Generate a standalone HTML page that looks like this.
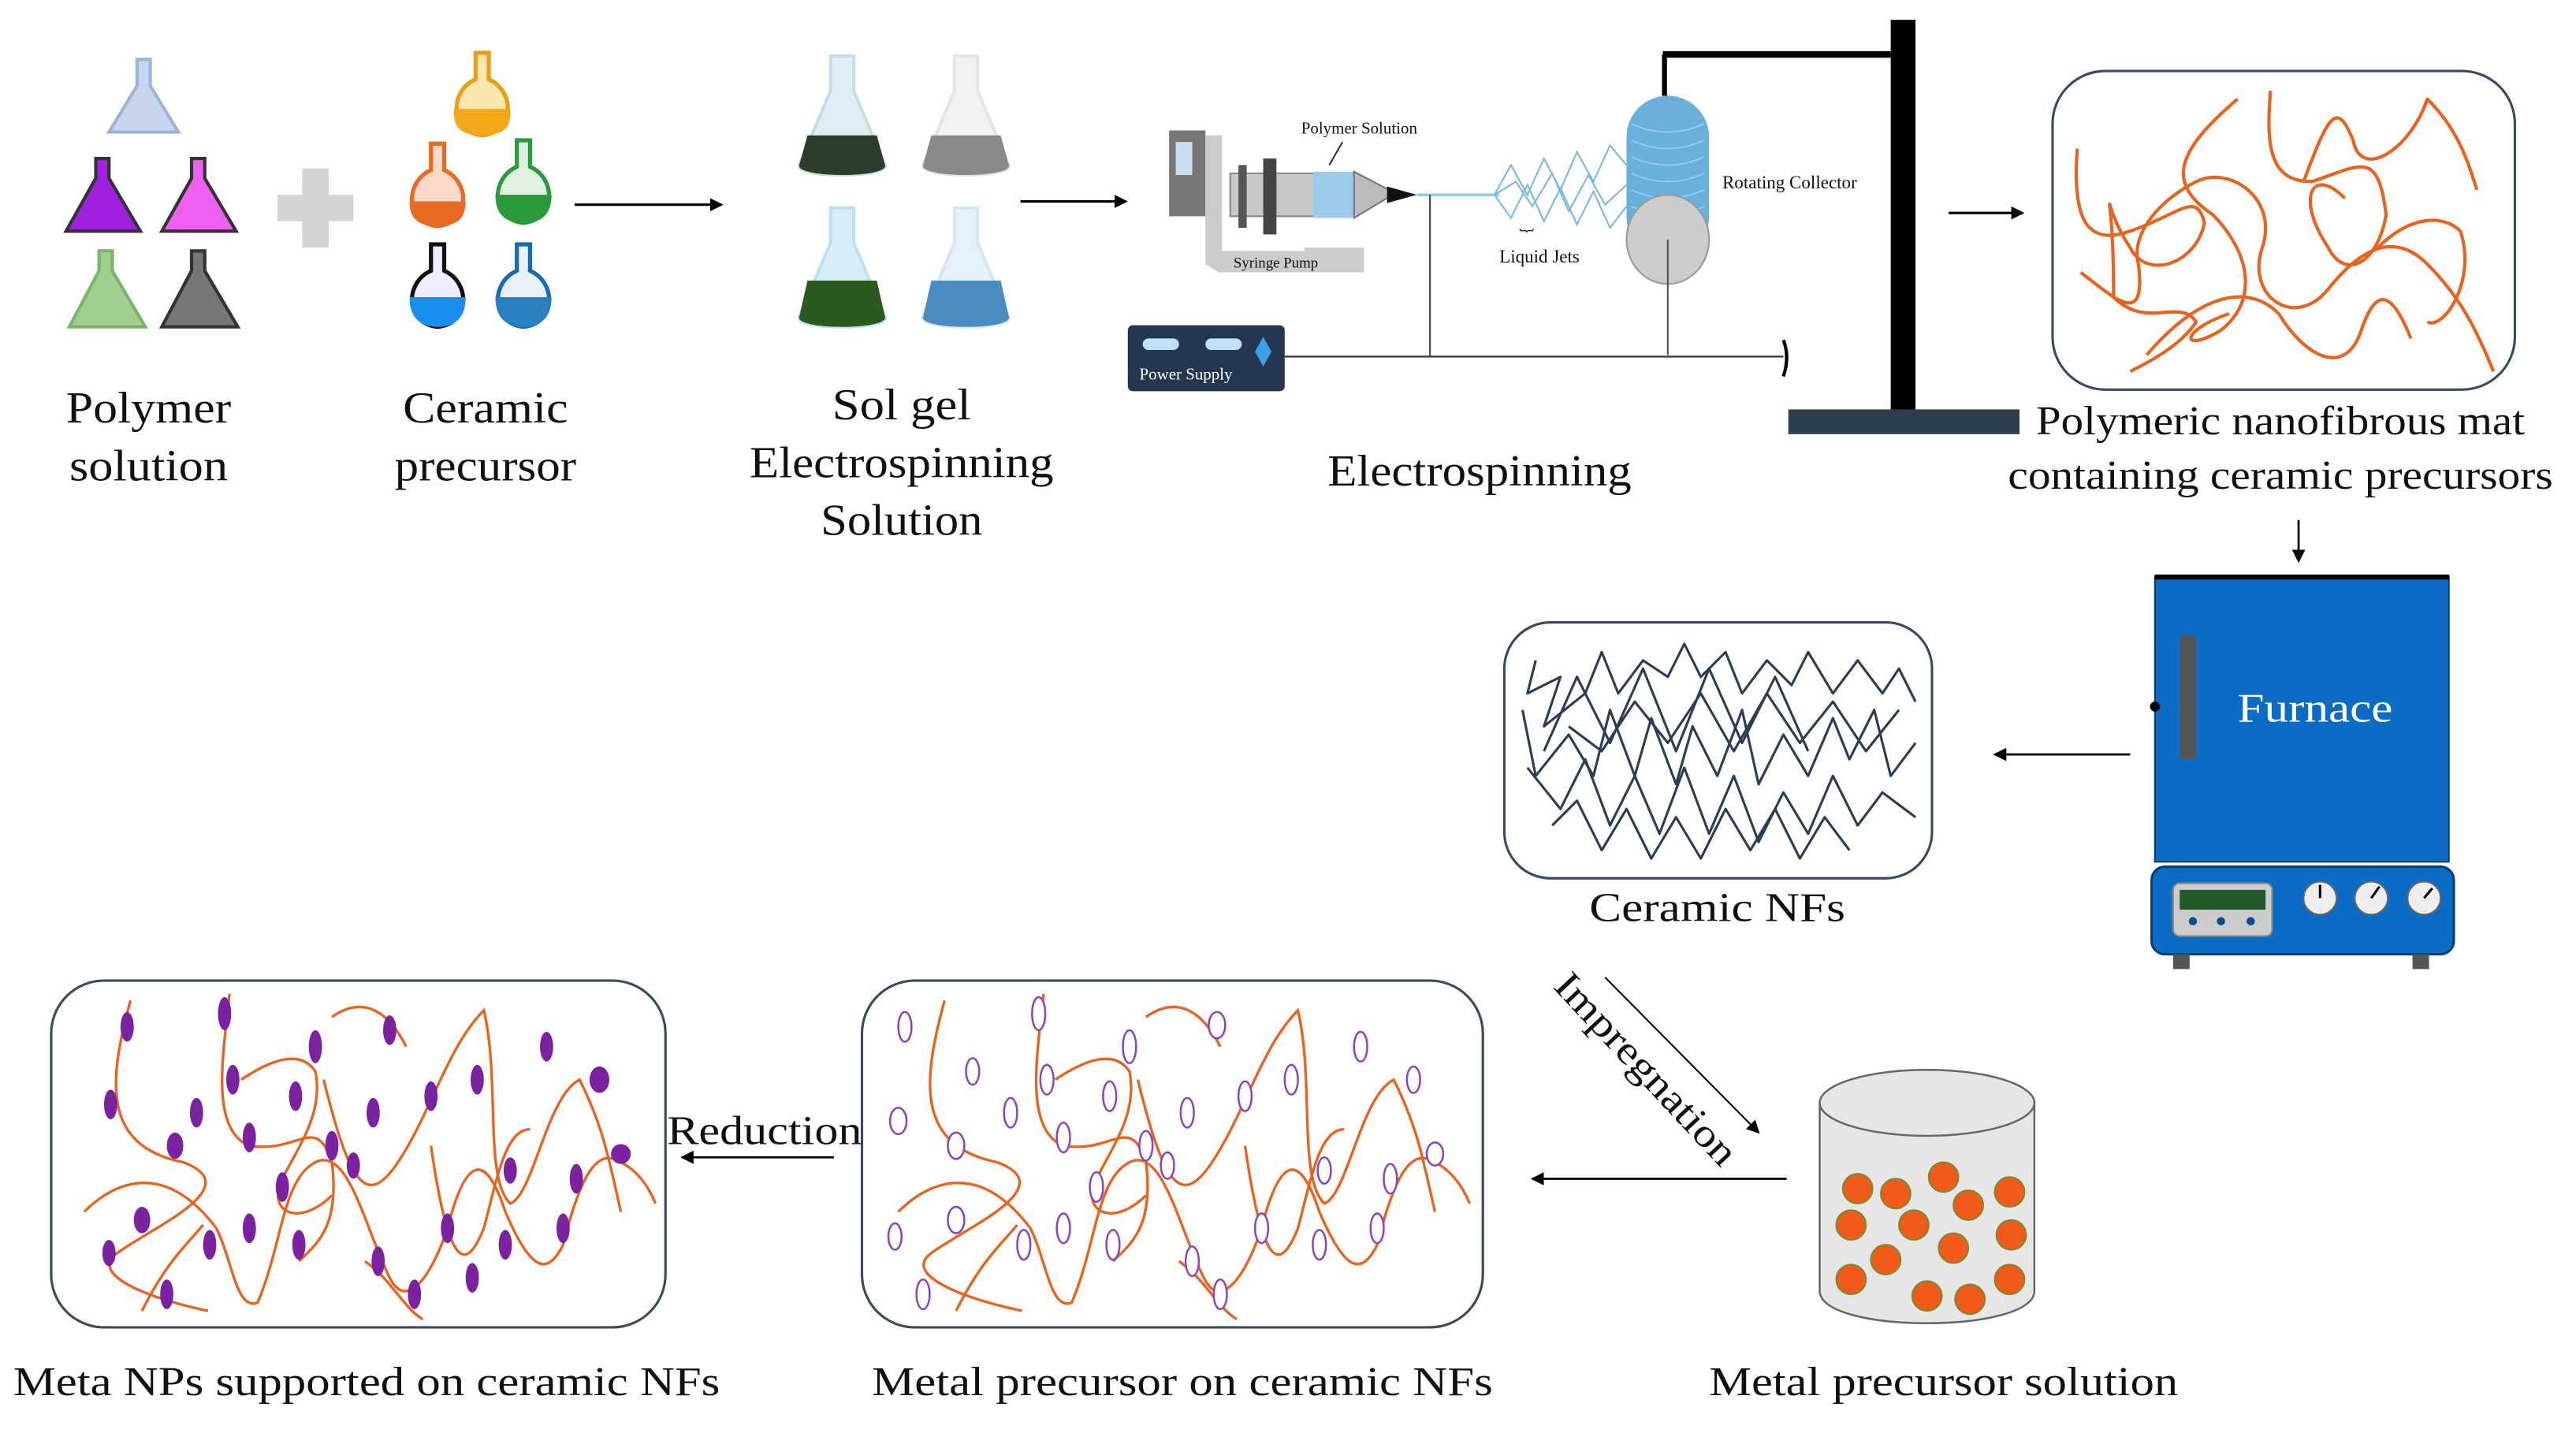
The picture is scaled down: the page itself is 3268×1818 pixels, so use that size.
<!DOCTYPE html>
<html><head><meta charset="utf-8"><style>
html,body{margin:0;padding:0;background:#fff;}
svg{display:block;}
text{font-family:"Liberation Serif",serif;fill:#111;}
</style></head><body>
<svg width="3268" height="1818" viewBox="0 0 1560 868" preserveAspectRatio="none" xmlns="http://www.w3.org/2000/svg">
<defs>
<marker id="ah" markerWidth="8" markerHeight="8" refX="7" refY="4" orient="auto" markerUnits="userSpaceOnUse"><path d="M0,0 L8,4 L0,8 Z" fill="#000"/></marker>
<g id="cflask"><path d="M-5,-30 L5,-30 L5,-12 C22,-5 22,22 0,25 C-22,22 -22,-5 -5,-12 Z" fill="#fff" stroke="currentColor" stroke-width="2.5"/></g>
<g id="fib">
<path d="M48,12 C35,60 30,100 80,110 C120,125 60,150 40,165 C20,180 70,195 95,200"/>
<path d="M108,8 C105,40 95,90 120,100 C150,105 160,80 170,110 C175,150 160,160 150,170"/>
<path d="M170,22 C190,8 205,20 215,40"/>
<path d="M165,60 C180,120 190,140 210,110 C230,80 240,40 262,18 C272,60 262,120 278,135 C292,130 300,70 320,60 C335,90 338,110 345,140"/>
<path d="M20,140 C40,120 70,110 100,150 C110,170 112,200 125,195 C140,160 140,120 160,110 C180,100 190,150 205,180 C215,200 230,180 240,150 C250,110 262,100 275,140 C290,175 300,180 310,160 C320,120 330,100 345,110 C355,115 362,125 366,135"/>
<path d="M55,200 C70,170 82,160 92,148"/>
<path d="M115,60 C130,50 150,40 160,55 C165,80 150,100 140,120 C130,140 150,150 170,130"/>
<path d="M230,100 C240,170 250,180 262,150 C270,120 275,90 290,90"/>
<path d="M190,170 C205,180 215,200 225,205"/>
</g>
</defs>

<!-- Polymer flasks -->
<g stroke-width="2">
<path d="M83,36 L91,36 L91,52 L108,80 L66,80 L83,52 Z" fill="#c7d6ee" stroke="#9fb5d8"/>
<path d="M58,96 L66,96 L66,108 L85,140 L40,140 L58,108 Z" fill="#a020e0" stroke="#333"/>
<path d="M116,96 L124,96 L124,108 L143,140 L98,140 L116,108 Z" fill="#f060f0" stroke="#333"/>
<path d="M60,152 L68,152 L68,164 L88,198 L42,198 L60,164 Z" fill="#9fd090" stroke="#7ab56a"/>
<path d="M116,152 L124,152 L124,164 L144,198 L98,198 L116,164 Z" fill="#777" stroke="#333"/>
</g>
<g fill="#d4d4d4"><rect x="168" y="118" width="46" height="16"/><rect x="183" y="102" width="16" height="48"/></g>
<!-- Ceramic flasks -->
<g>
<path d="M288,32 L296,32 L296,48 C312,55 312,80 292,82 C272,80 272,55 288,48 Z" fill="#fbe5b0" stroke="#e8a010" stroke-width="2.5"/>
<path d="M275,66 L309,66 C310,78 304,82 292,82 C280,82 274,78 275,66Z" fill="#f0a818"/>
<path d="M261,87 L269,87 L269,103 C285,110 285,135 265,137 C245,135 245,110 261,103 Z" fill="#fbd8c8" stroke="#e86a20" stroke-width="2.5"/>
<path d="M248,122 L282,122 C282,133 276,137 265,137 C254,137 248,133 248,122Z" fill="#e86a20"/>
<path d="M313,85 L321,85 L321,101 C337,108 337,133 317,135 C297,133 297,108 313,101 Z" fill="#e0f0e0" stroke="#2a9a3a" stroke-width="2.5"/>
<path d="M300,118 L334,118 C334,130 328,135 317,135 C306,135 300,130 300,118Z" fill="#2a9a3a"/>
<path d="M261,148 L269,148 L269,164 C285,171 285,196 265,198 C245,196 245,171 261,164 Z" fill="#eef" stroke="#111" stroke-width="2.5"/>
<path d="M248,180 L282,180 C282,192 276,198 265,198 C254,198 248,192 248,180Z" fill="#1a8ef0"/>
<path d="M313,148 L321,148 L321,164 C337,171 337,196 317,198 C297,196 297,171 313,164 Z" fill="#e8f0f8" stroke="#1a6ab0" stroke-width="2.5"/>
<path d="M300,180 L334,180 C334,192 328,198 317,198 C306,198 300,192 300,180Z" fill="#2a80c0"/>
</g>
<line x1="348" y1="124" x2="437" y2="124" stroke="#000" stroke-width="1.5" marker-end="url(#ah)"/>
<!-- Sol gel flasks -->
<g>
<path d="M503,34 L517,34 L517,55 L536,100 C538,108 482,108 484,100 L503,55 Z" fill="#dfeef4" stroke="#c7dde6" stroke-width="2"/>
<path d="M489,82 L531,82 L536,100 C538,108 482,108 484,100Z" fill="#2b3d2b"/>
<path d="M578,34 L592,34 L592,55 L611,100 C613,108 557,108 559,100 L578,55 Z" fill="#f2f2f2" stroke="#e5e5e5" stroke-width="2"/>
<path d="M564,82 L606,82 L611,100 C613,108 557,108 559,100Z" fill="#8a8a8a"/>
<path d="M503,126 L517,126 L517,147 L536,192 C538,200 482,200 484,192 L503,147 Z" fill="#d6eef8" stroke="#bfe0f0" stroke-width="2"/>
<path d="M489,170 L531,170 L536,192 C538,200 482,200 484,192Z" fill="#2a5a1e"/>
<path d="M578,126 L592,126 L592,147 L611,192 C613,200 557,200 559,192 L578,147 Z" fill="#e6f2fa" stroke="#d2e8f4" stroke-width="2"/>
<path d="M564,170 L606,170 L611,192 C613,200 557,200 559,192Z" fill="#4a8cc0"/>
</g>
<line x1="618" y1="122" x2="682" y2="122" stroke="#000" stroke-width="1.5" marker-end="url(#ah)"/>
<!-- Electrospinning setup -->
<rect x="708" y="79" width="22" height="52" fill="#777"/>
<rect x="712" y="86" width="10" height="20" fill="#cde"/>
<path d="M730,82 L740,82 L740,152 L790,152 L790,150 L826,150 L826,165 L738,165 L730,160 Z" fill="#ccc"/>
<text x="747" y="162" font-size="9">Syringe  Pump</text>
<rect x="745" y="105" width="70" height="26" fill="#c8c8c8" stroke="#888"/>
<rect x="765" y="96" width="8" height="46" fill="#444"/>
<rect x="750" y="100" width="5" height="38" fill="#555"/>
<rect x="795" y="104" width="25" height="28" fill="#9ccbec"/>
<path d="M820,104 L845,117 L820,132 Z" fill="#bbb" stroke="#777"/>
<path d="M840,113 L858,118 L840,123Z" fill="#111"/>
<line x1="858" y1="118" x2="908" y2="118" stroke="#8cc4e8" stroke-width="1.5"/>
<text x="788" y="81" font-size="10">Polymer Solution</text>
<line x1="813" y1="86" x2="805" y2="100" stroke="#333" stroke-width="1"/>
<g fill="none" stroke="#7ab8e0" stroke-width="1">
<polyline points="905,118 915,100 925,118 935,96 945,115 955,92 965,110 975,88 985,100"/>
<polyline points="905,118 915,132 925,112 935,134 945,114 955,136 965,116 975,138 985,125"/>
<polyline points="905,118 918,110 928,125 940,105 950,128 962,106 972,124 985,112"/>
</g>
<text x="908" y="159" font-size="11">Liquid Jets</text>
<text x="920" y="146" font-size="9">︸</text>
<line x1="1008" y1="58" x2="1008" y2="33" stroke="#000" stroke-width="3"/>
<line x1="1007" y1="33" x2="1145" y2="33" stroke="#000" stroke-width="4"/>
<rect x="985" y="58" width="50" height="98" rx="25" fill="#6ab0dc"/>
<g fill="none" stroke="#a8d4ee" stroke-width="0.8" opacity="0.8">
<path d="M988,75 Q1010,85 1032,75"/><path d="M988,85 Q1010,95 1032,85"/><path d="M988,95 Q1010,105 1032,95"/><path d="M988,105 Q1010,115 1032,105"/><path d="M988,115 Q1010,125 1032,115"/><path d="M988,125 Q1010,135 1032,125"/>
</g>
<ellipse cx="1010" cy="145" rx="25" ry="27" fill="#ccc" stroke="#999"/>
<line x1="1010" y1="145" x2="1010" y2="215" stroke="#555" stroke-width="1"/>
<text x="1043" y="114" font-size="11">Rotating Collector</text>
<rect x="1145" y="12" width="15" height="237" fill="#000"/>
<rect x="1083" y="248" width="140" height="15" fill="#2c3e50"/>
<rect x="683" y="197" width="95" height="40" rx="3" fill="#253750"/>
<rect x="692" y="205" width="22" height="7" rx="3.5" fill="#bfe0f5"/>
<rect x="730" y="205" width="22" height="7" rx="3.5" fill="#bfe0f5"/>
<path d="M765,204 L770,213 L765,222 L760,213Z" fill="#3aa0e8"/>
<text x="690" y="230" font-size="10" fill="#fff" style="fill:#fff">Power Supply</text>
<line x1="778" y1="216" x2="1080" y2="216" stroke="#444" stroke-width="1.2"/>
<line x1="866" y1="118" x2="866" y2="216" stroke="#444" stroke-width="1"/>
<path d="M1080,206 Q1084,216 1080,228" stroke="#000" stroke-width="2" fill="none"/>
<text x="896" y="294" font-size="27" text-anchor="middle" textLength="184" lengthAdjust="spacingAndGlyphs">Electrospinning</text>
<!-- Labels top -->
<text x="90" y="256" font-size="27" text-anchor="middle" textLength="100" lengthAdjust="spacingAndGlyphs">Polymer</text>
<text x="90" y="291" font-size="27" text-anchor="middle" textLength="96" lengthAdjust="spacingAndGlyphs">solution</text>
<text x="294" y="256" font-size="27" text-anchor="middle" textLength="100" lengthAdjust="spacingAndGlyphs">Ceramic</text>
<text x="294" y="291" font-size="27" text-anchor="middle" textLength="110" lengthAdjust="spacingAndGlyphs">precursor</text>
<text x="546" y="254" font-size="27" text-anchor="middle" textLength="84" lengthAdjust="spacingAndGlyphs">Sol gel</text>
<text x="546" y="289" font-size="27" text-anchor="middle" textLength="184" lengthAdjust="spacingAndGlyphs">Electrospinning</text>
<text x="546" y="324" font-size="27" text-anchor="middle" textLength="98" lengthAdjust="spacingAndGlyphs">Solution</text>
<line x1="1180" y1="129" x2="1225" y2="129" stroke="#000" stroke-width="1.5" marker-end="url(#ah)"/>
<!-- Mat -->
<rect x="1243" y="43" width="280" height="193" rx="32" fill="#fff" stroke="#3a4a60" stroke-width="1.5"/>
<g fill="none" stroke="#e8641e" stroke-width="2" stroke-linejoin="round">
<path d="M1258,90 C1255,130 1262,150 1290,140 C1320,130 1330,115 1335,135 C1330,160 1300,170 1290,150 C1270,120 1280,100 1280,180 C1300,200 1320,180 1330,195 C1320,210 1300,220 1290,225"/>
<path d="M1355,60 C1320,90 1310,110 1340,130 C1360,150 1370,180 1345,200 C1320,215 1320,200 1350,190"/>
<path d="M1375,55 C1372,90 1375,110 1400,110 C1430,100 1440,90 1445,130 C1440,160 1420,170 1410,150 C1390,120 1400,100 1420,120"/>
<path d="M1395,110 C1410,70 1415,60 1425,85 C1430,110 1460,90 1470,60 C1490,80 1495,100 1500,115"/>
<path d="M1260,165 C1280,180 1300,200 1295,160 C1290,140 1310,120 1330,110 C1350,100 1380,120 1370,150 C1360,180 1390,200 1410,175 C1430,150 1450,140 1470,160 C1490,180 1500,200 1510,225"/>
<path d="M1440,150 C1460,130 1480,130 1490,140 C1500,170 1480,200 1470,195"/>
<path d="M1300,215 C1330,180 1360,170 1380,190 C1395,215 1420,230 1430,200 C1440,170 1450,180 1460,205"/>
</g>
<text x="1381" y="263" font-size="25" text-anchor="middle" textLength="296" lengthAdjust="spacingAndGlyphs">Polymeric nanofibrous mat</text>
<text x="1381" y="296" font-size="25" text-anchor="middle" textLength="330" lengthAdjust="spacingAndGlyphs">containing ceramic precursors</text>
<line x1="1392" y1="315" x2="1392" y2="340" stroke="#000" stroke-width="1.3" marker-end="url(#ah)"/>
<!-- Furnace -->
<rect x="1305" y="349" width="178" height="173" fill="#0a6cc4" stroke="#0b3d6e" stroke-width="1"/>
<rect x="1305" y="348" width="178" height="3" fill="#000"/>
<rect x="1320" y="385" width="10" height="75" fill="#555"/>
<circle cx="1305" cy="428" r="3" fill="#000"/>
<text x="1402" y="437" font-size="25" text-anchor="middle" style="fill:#fff" textLength="94" lengthAdjust="spacingAndGlyphs">Furnace</text>
<rect x="1303" y="525" width="183" height="53" rx="8" fill="#0a6cc4" stroke="#0b3d6e" stroke-width="1.5"/>
<rect x="1316" y="535" width="60" height="32" rx="4" fill="#ccc" stroke="#888"/>
<rect x="1320" y="539" width="52" height="12" fill="#1e5a2a"/>
<circle cx="1328" cy="558" r="2.5" fill="#0b4b8e"/><circle cx="1345" cy="558" r="2.5" fill="#0b4b8e"/><circle cx="1363" cy="558" r="2.5" fill="#0b4b8e"/>
<g fill="#eee" stroke="#666" stroke-width="1"><circle cx="1405" cy="544" r="10"/><circle cx="1436" cy="544" r="10"/><circle cx="1468" cy="544" r="10"/></g>
<g stroke="#000" stroke-width="1.5"><line x1="1405" y1="544" x2="1405" y2="536"/><line x1="1436" y1="544" x2="1441" y2="537"/><line x1="1468" y1="544" x2="1473" y2="538"/></g>
<rect x="1316" y="578" width="10" height="9" fill="#555"/><rect x="1461" y="578" width="10" height="9" fill="#555"/>
<line x1="1290" y1="457" x2="1208" y2="457" stroke="#000" stroke-width="1.3" marker-end="url(#ah)"/>
<!-- Ceramic NFs -->
<rect x="911" y="377" width="259" height="155" rx="28" fill="#fff" stroke="#3a4a60" stroke-width="1.5"/>
<g fill="none" stroke="#2b3e55" stroke-width="1.5" stroke-linejoin="round">
<polyline points="930,400 925,420 945,410 935,440 960,420 970,395 980,420 995,400 1010,410 1020,390 1030,410 1045,395 1055,420 1070,400 1085,415 1095,395 1110,420 1125,400 1140,420 1150,405 1160,425"/>
<polyline points="922,430 930,470 950,445 965,470 975,430 990,470 1000,435 1015,475 1025,440 1040,470 1055,430 1065,475 1080,445 1095,470 1110,435 1120,460 1135,430 1145,470 1160,450"/>
<polyline points="925,465 945,490 960,460 975,500 990,470 1005,505 1020,465 1035,505 1050,470 1065,510 1080,480 1095,505 1110,470 1125,500 1140,480 1160,495"/>
<polyline points="940,500 955,485 970,515 985,490 1000,520 1015,495 1030,520 1045,490 1060,515 1075,490 1090,520 1105,495 1120,515"/>
<polyline points="950,440 970,455 990,425 1010,450 1030,420 1050,455 1070,420 1090,450 1110,425 1130,455 1150,430"/>
<polyline points="935,455 955,410 975,450 995,405 1015,455 1035,405 1055,450 1075,410 1095,455"/>
</g>
<text x="1040" y="558" font-size="25" text-anchor="middle" textLength="155" lengthAdjust="spacingAndGlyphs">Ceramic NFs</text>
<!-- Impregnation -->
<text x="0" y="0" font-size="24" transform="translate(940,598) rotate(47)" textLength="150" lengthAdjust="spacingAndGlyphs">Impregnation</text>
<line x1="972" y1="592" x2="1065" y2="686" stroke="#000" stroke-width="1" marker-end="url(#ah)"/>
<!-- Beaker -->
<path d="M1102,668 L1102,782 C1102,808 1232,808 1232,782 L1232,668 Z" fill="#e6e6e6" stroke="#666" stroke-width="1.2"/>
<ellipse cx="1167" cy="668" rx="65" ry="20" fill="#e6e6e6" stroke="#666" stroke-width="1.2"/>
<g fill="#f25a1a" stroke="#7a8a30" stroke-width="1">
<circle cx="1125" cy="720" r="9"/><circle cx="1148" cy="723" r="9"/><circle cx="1177" cy="713" r="9"/><circle cx="1192" cy="730" r="9"/><circle cx="1217" cy="722" r="9"/>
<circle cx="1121" cy="742" r="9"/><circle cx="1159" cy="742" r="9"/><circle cx="1218" cy="748" r="9"/><circle cx="1183" cy="756" r="9"/><circle cx="1142" cy="763" r="9"/>
<circle cx="1121" cy="775" r="9"/><circle cx="1167" cy="785" r="9"/><circle cx="1193" cy="787" r="9"/><circle cx="1217" cy="775" r="9"/>
</g>
<line x1="1082" y1="714" x2="928" y2="714" stroke="#000" stroke-width="1.3" marker-end="url(#ah)"/>
<!-- Bottom boxes -->
<rect x="522" y="594" width="376" height="210" rx="32" fill="#fff" stroke="#3a4a60" stroke-width="1.5"/>
<rect x="31" y="594" width="372" height="210" rx="32" fill="#fff" stroke="#3a4a60" stroke-width="1.5"/>
<g transform="translate(31,594)" fill="none" stroke="#e8641e" stroke-width="1.6"><use href="#fib"/></g>
<g transform="translate(524,594)" fill="none" stroke="#e8641e" stroke-width="1.6"><use href="#fib"/></g>
<g transform="translate(31,594)" fill="#7a22a0">
<ellipse cx="46" cy="28" rx="4" ry="9"/><ellipse cx="36" cy="75" rx="4" ry="9"/><ellipse cx="75" cy="100" rx="5" ry="8"/><ellipse cx="105" cy="20" rx="4" ry="10"/><ellipse cx="110" cy="60" rx="4" ry="9"/>
<ellipse cx="120" cy="95" rx="4" ry="9"/><ellipse cx="160" cy="40" rx="4" ry="10"/><ellipse cx="148" cy="70" rx="4" ry="9"/><ellipse cx="170" cy="100" rx="4" ry="9"/><ellipse cx="183" cy="112" rx="4" ry="8"/>
<ellipse cx="195" cy="80" rx="4" ry="9"/><ellipse cx="205" cy="30" rx="4" ry="9"/><ellipse cx="230" cy="70" rx="4" ry="9"/><ellipse cx="258" cy="60" rx="4" ry="9"/><ellipse cx="278" cy="115" rx="4" ry="8"/>
<ellipse cx="300" cy="40" rx="4" ry="9"/><ellipse cx="332" cy="60" rx="6" ry="8"/><ellipse cx="96" cy="160" rx="4" ry="9"/><ellipse cx="120" cy="150" rx="4" ry="9"/><ellipse cx="150" cy="160" rx="4" ry="9"/>
<ellipse cx="55" cy="145" rx="5" ry="8"/><ellipse cx="70" cy="190" rx="4" ry="9"/><ellipse cx="198" cy="170" rx="4" ry="9"/><ellipse cx="240" cy="150" rx="4" ry="9"/><ellipse cx="255" cy="180" rx="4" ry="9"/>
<ellipse cx="310" cy="150" rx="4" ry="9"/><ellipse cx="318" cy="120" rx="4" ry="9"/><ellipse cx="275" cy="160" rx="4" ry="9"/><ellipse cx="345" cy="105" rx="6" ry="6"/><ellipse cx="140" cy="125" rx="4" ry="9"/>
<ellipse cx="88" cy="80" rx="4" ry="9"/><ellipse cx="220" cy="190" rx="4" ry="9"/><ellipse cx="35" cy="165" rx="4" ry="8"/>
</g>
<g transform="translate(524,594)" fill="#fff" stroke="#8a44c0" stroke-width="1.2">
<ellipse cx="24" cy="28" rx="4" ry="9"/><ellipse cx="20" cy="85" rx="5" ry="8"/><ellipse cx="55" cy="100" rx="5" ry="8"/><ellipse cx="105" cy="20" rx="4" ry="10"/><ellipse cx="110" cy="60" rx="4" ry="9"/>
<ellipse cx="120" cy="95" rx="4" ry="9"/><ellipse cx="160" cy="40" rx="4" ry="10"/><ellipse cx="148" cy="70" rx="4" ry="9"/><ellipse cx="170" cy="100" rx="4" ry="9"/><ellipse cx="183" cy="112" rx="4" ry="8"/>
<ellipse cx="195" cy="80" rx="4" ry="9"/><ellipse cx="213" cy="27" rx="5" ry="8"/><ellipse cx="230" cy="70" rx="4" ry="9"/><ellipse cx="258" cy="60" rx="4" ry="9"/><ellipse cx="278" cy="115" rx="4" ry="8"/>
<ellipse cx="300" cy="40" rx="4" ry="9"/><ellipse cx="332" cy="60" rx="4" ry="8"/><ellipse cx="96" cy="160" rx="4" ry="9"/><ellipse cx="120" cy="150" rx="4" ry="9"/><ellipse cx="150" cy="160" rx="4" ry="9"/>
<ellipse cx="55" cy="145" rx="5" ry="8"/><ellipse cx="35" cy="190" rx="4" ry="9"/><ellipse cx="198" cy="170" rx="4" ry="9"/><ellipse cx="240" cy="150" rx="4" ry="9"/><ellipse cx="215" cy="190" rx="4" ry="9"/>
<ellipse cx="310" cy="150" rx="4" ry="9"/><ellipse cx="318" cy="120" rx="4" ry="9"/><ellipse cx="275" cy="160" rx="4" ry="9"/><ellipse cx="345" cy="105" rx="5" ry="7"/><ellipse cx="140" cy="125" rx="4" ry="9"/>
<ellipse cx="88" cy="80" rx="4" ry="9"/><ellipse cx="65" cy="55" rx="4" ry="8"/><ellipse cx="18" cy="155" rx="4" ry="8"/>
</g>
<text x="404" y="693" font-size="25" textLength="118" lengthAdjust="spacingAndGlyphs">Reduction</text>
<line x1="505" y1="701" x2="413" y2="701" stroke="#000" stroke-width="1.3" marker-end="url(#ah)"/>
<text x="222" y="845" font-size="25" text-anchor="middle" textLength="428" lengthAdjust="spacingAndGlyphs">Meta NPs supported on ceramic NFs</text>
<text x="716" y="845" font-size="25" text-anchor="middle" textLength="376" lengthAdjust="spacingAndGlyphs">Metal precursor on ceramic NFs</text>
<text x="1177" y="845" font-size="25" text-anchor="middle" textLength="284" lengthAdjust="spacingAndGlyphs">Metal precursor solution</text>
</svg>
</body></html>
